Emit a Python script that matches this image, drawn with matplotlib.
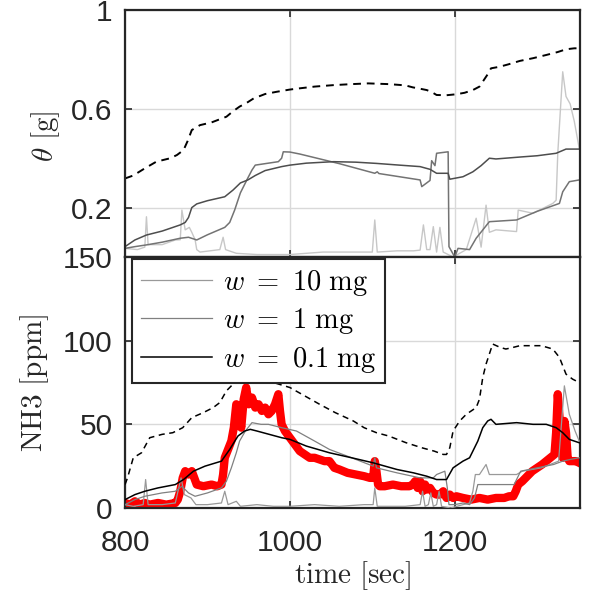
import matplotlib.pyplot as plt
import numpy as np

plt.rcParams['mathtext.fontset'] = 'cm'
plt.rcParams['font.family'] = ['Liberation Sans', 'DejaVu Sans']

# ---- top panel: theta [g] ----
t_dash_top = [800, 810, 824, 838, 855, 863, 871, 876, 881, 891,
              905, 923, 931, 939, 948, 956, 970, 984, 1000, 1012,
              1030, 1053, 1075, 1095, 1120, 1140, 1149, 1160, 1166, 1172,
              1178, 1190, 1202, 1212, 1222, 1230, 1234, 1240, 1244, 1254,
              1265, 1279, 1295, 1311, 1325, 1335, 1345, 1351]
th_dash = [0.318, 0.33, 0.359, 0.386, 0.40, 0.413, 0.433, 0.47, 0.514, 0.534,
           0.545, 0.568, 0.59, 0.609, 0.625, 0.642, 0.66, 0.669, 0.678, 0.683,
           0.69, 0.696, 0.70, 0.703, 0.70, 0.695, 0.687, 0.68, 0.676, 0.668,
           0.656, 0.655, 0.659, 0.665, 0.676, 0.69, 0.71, 0.74, 0.764, 0.77,
           0.78, 0.794, 0.805, 0.818, 0.83, 0.841, 0.845, 0.845]

t_th01 = [800, 812, 826, 845, 867, 873, 877, 881, 887, 900,
          921, 931, 940, 949, 958, 970, 990, 1000, 1020, 1053,
          1080, 1105, 1133, 1158, 1170, 1178, 1192, 1194, 1210, 1222,
          1232, 1242, 1250, 1280, 1300, 1323, 1335, 1351]
th01 = [0.042, 0.069, 0.089, 0.105, 0.130, 0.14, 0.16, 0.20, 0.215, 0.228,
        0.244, 0.271, 0.30, 0.312, 0.33, 0.35, 0.366, 0.372, 0.38, 0.386,
        0.384, 0.379, 0.372, 0.366, 0.355, 0.339, 0.339, 0.315, 0.325, 0.345,
        0.37, 0.40, 0.397, 0.405, 0.41, 0.42, 0.437, 0.437]

t_th1 = [800, 812, 826, 845, 867, 877, 887, 900, 921, 927,
         933, 940, 949, 954, 958, 986, 990, 992, 1000, 1012,
         1060, 1103, 1106, 1108, 1133, 1158, 1160, 1166, 1170, 1172,
         1176, 1178, 1192, 1193, 1200, 1204, 1218, 1226, 1242, 1275,
         1300, 1327, 1331, 1339, 1351]
th1 = [0.035, 0.042, 0.049, 0.06, 0.076, 0.08, 0.069, 0.09, 0.12, 0.14,
       0.19, 0.26, 0.32, 0.352, 0.372, 0.386, 0.40, 0.426, 0.425, 0.417,
       0.378, 0.339, 0.345, 0.338, 0.325, 0.312, 0.285, 0.30, 0.31, 0.39,
       0.37, 0.42, 0.426, 0.042, 0.0, 0.035, 0.03, 0.076, 0.143, 0.15,
       0.185, 0.217, 0.264, 0.305, 0.312]

t_th10 = [800, 815, 824, 826, 828, 845, 861, 867, 869, 873,
          878, 881, 885, 887, 891, 915, 919, 922, 935, 960,
          1000, 1040, 1080, 1100, 1103, 1106, 1130, 1150, 1158, 1162,
          1166, 1170, 1174, 1178, 1182, 1186, 1198, 1214, 1226, 1232,
          1238, 1242, 1250, 1275, 1277, 1295, 1319, 1323, 1325, 1331,
          1335, 1340, 1345, 1351]
th10 = [0.035, 0.03, 0.04, 0.163, 0.05, 0.05, 0.069, 0.07, 0.19, 0.11,
        0.12, 0.10, 0.07, 0.03, 0.02, 0.03, 0.08, 0.03, 0.015, 0.01,
        0.01, 0.02, 0.02, 0.02, 0.15, 0.02, 0.025, 0.025, 0.028, 0.13,
        0.03, 0.03, 0.123, 0.02, 0.12, 0.02, 0.0, 0.03, 0.157, 0.04,
        0.21, 0.10, 0.11, 0.103, 0.19, 0.177, 0.217, 0.23, 0.42, 0.75,
        0.65, 0.62, 0.55, 0.44]

# ---- bottom panel: NH3 [ppm] ----
t_dash_bot = [800, 803, 810, 820, 830, 845, 858, 870, 881, 895,
              907, 915, 923, 935, 950, 965, 980, 1000, 1018, 1036,
              1055, 1077, 1090, 1105, 1120, 1141, 1160, 1175, 1186, 1190,
              1194, 1198, 1206, 1214, 1220, 1226, 1230, 1234, 1238, 1242,
              1246, 1255, 1262, 1271, 1279, 1290, 1305, 1319, 1327, 1335,
              1343, 1351]
nh3_dash = [14, 18, 30, 33, 42, 44, 45, 48, 54, 57,
            60, 63, 70, 76, 78, 77, 75, 72, 67, 62,
            57, 52, 48, 45, 43, 39, 36, 34, 32, 32,
            36, 46, 52, 56, 58, 60, 65, 78, 86, 92,
            98, 96, 95, 96, 97, 97, 97, 95, 90, 80,
            77, 75]

t_meas = [800, 806, 812, 818, 824, 830, 840, 850, 861, 864,
          867, 870, 873, 877, 881, 884, 887, 895, 905, 912,
          917, 919, 921, 925, 929, 932, 935, 938, 941, 944,
          947, 950, 954, 958, 962, 966, 970, 974, 978, 982,
          986, 988, 990, 994, 1000, 1006, 1012, 1018, 1024, 1030,
          1036, 1042, 1048, 1051, 1054, 1060, 1070, 1080, 1090, 1097,
          1101, 1103, 1105, 1107, 1109, 1115, 1125, 1135, 1145, 1149,
          1152, 1155, 1158, 1161, 1164, 1166, 1170, 1174, 1178, 1182,
          1186, 1190, 1194, 1198, 1202, 1210, 1220, 1230, 1240, 1250,
          1260, 1266, 1271, 1274, 1277, 1282, 1288, 1294, 1300, 1306,
          1311, 1316, 1321, 1323, 1325, 1327, 1329, 1331, 1333, 1335,
          1337, 1339, 1343, 1347, 1351]
nh3_meas = [3, 2, 4, 2, 3, 2, 3, 2, 3, 5,
            10, 18, 22, 20, 22, 18, 14, 13, 14, 13,
            14, 20, 30, 35, 40, 48, 62, 55, 48, 65,
            72, 62, 66, 60, 62, 58, 60, 56, 58, 62,
            68, 58, 50, 46, 42, 38, 34, 32, 30, 30,
            29, 28, 28, 26, 24, 23, 21, 20, 19, 18,
            18, 28, 22, 14, 13, 13, 14, 13, 13, 14,
            16, 12, 16, 10, 14, 11, 12, 9, 8, 8,
            10, 6, 8, 6, 7, 6, 5, 6, 5, 6,
            6, 7, 7, 10, 14, 16, 19, 22, 24, 26,
            28, 30, 32, 45, 68, 55, 40, 30, 52, 45,
            30, 28, 28, 28, 27]

t_n01 = [800, 812, 824, 840, 861, 871, 883, 897, 917, 927,
         937, 945, 952, 960, 975, 990, 1000, 1020, 1048, 1075,
         1101, 1130, 1150, 1166, 1178, 1190, 1198, 1210, 1218, 1228,
         1234, 1240, 1244, 1250, 1275, 1295, 1311, 1323, 1331, 1339,
         1351]
n01 = [5, 8, 10, 12, 14, 17, 22, 25, 28, 35,
       43, 46, 47, 46, 44, 42, 41, 37, 33, 30,
       27, 23, 21, 19, 17, 17, 24, 28, 30, 40,
       48, 52, 53, 50, 51, 50, 50, 48, 45, 41,
       39]

t_n1 = [800, 812, 824, 845, 861, 869, 877, 885, 900, 917,
        923, 929, 935, 939, 946, 954, 965, 974, 990, 1008,
        1030, 1048, 1075, 1101, 1103, 1105, 1130, 1158, 1174, 1178,
        1188, 1191, 1193, 1200, 1210, 1218, 1224, 1228, 1234, 1250,
        1272, 1280, 1300, 1320, 1331, 1340, 1351]
n1 = [2, 5, 7, 9, 10, 13, 9, 7, 9, 12,
      16, 24, 33, 40, 46, 51, 50, 50, 48, 46,
      40, 35, 30, 25, 30, 24, 21, 18, 18, 20,
      22, 12, 2, 2, 3, 2, 6, 14, 14, 14,
      14, 22, 24, 26, 28, 29, 30]

t_n10 = [800, 810, 822, 825, 828, 845, 861, 868, 872, 880,
         886, 900, 917, 921, 925, 935, 940, 960, 980, 1000,
         1030, 1060, 1090, 1101, 1103, 1106, 1140, 1158, 1161, 1164,
         1168, 1171, 1174, 1178, 1181, 1184, 1195, 1210, 1218, 1222,
         1225, 1230, 1238, 1242, 1275, 1282, 1305, 1326, 1333, 1339,
         1346, 1351]
n10 = [2, 1, 2, 17, 2, 2, 3, 18, 8, 6,
       2, 2, 3, 10, 2, 4, 1, 2, 1, 1,
       2, 1, 2, 2, 12, 1, 1, 2, 10, 1,
       2, 9, 1, 2, 10, 1, 0, 2, 3, 10,
       20, 20, 26, 20, 20, 22, 24, 28, 73, 56,
       46, 40]

fig = plt.figure(figsize=(5.9, 5.97), dpi=100)
ax1 = fig.add_axes([0.2119, 0.5695, 0.7712, 0.4137])
ax2 = fig.add_axes([0.2119, 0.1491, 0.7712, 0.4204])

ax1.plot(t_dash_top, th_dash, '--', color='k', lw=1.4, dashes=(4, 3))
ax1.plot(t_th10, th10, color='0.78', lw=1.0)
ax1.plot(t_th1, th1, color='0.45', lw=1.1)
ax1.plot(t_th01, th01, color='0.3', lw=1.1)

ax2.plot(t_meas, nh3_meas, color='red', lw=6, zorder=2)
ax2.plot(t_dash_bot, nh3_dash, '--', color='k', lw=1.1, dashes=(4, 3), zorder=3)
l10, = ax2.plot(t_n10, n10, color='0.6', lw=0.9, zorder=3, label=r'$w\ =\ 10\ \mathrm{mg}$')
l1, = ax2.plot(t_n1, n1, color='0.5', lw=0.9, zorder=3, label=r'$w\ =\ 1\ \mathrm{mg}$')
l01, = ax2.plot(t_n01, n01, color='k', lw=1.1, zorder=3, label=r'$w\ =\ 0.1\ \mathrm{mg}$')

for ax in (ax1, ax2):
    ax.set_xlim(800, 1352)
    ax.set_xticks([800, 1000, 1200])
    ax.grid(True, color='0.85', lw=1.0)
    ax.set_axisbelow(True)
    ax.tick_params(direction='in', length=5, width=1.2, top=True, right=True,
                   labelsize=21.5, colors='0.15', pad=9)
    for s in ax.spines.values():
        s.set_linewidth(1.6)
        s.set_color('0.15')

ax1.set_ylim(0, 1)
ax1.set_yticks([0.2, 0.6, 1])
ax1.set_yticklabels(['0.2', '0.6', '1'])
ax1.tick_params(labelbottom=False)

ax2.set_ylim(0, 150)
ax2.set_yticks([0, 50, 100, 150])
ax2.tick_params(axis='x', pad=15)

ax1.set_ylabel(r'$\theta\ [\mathrm{g}]$', fontsize=21, color='0.15')
ax1.yaxis.set_label_coords(-0.138, 0.49)
ax2.set_ylabel(r'$\mathrm{NH3\ [ppm]}$', fontsize=21, color='0.15')
ax2.yaxis.set_label_coords(-0.163, 0.5)
ax2.set_xlabel(r'$\mathrm{time\ [sec]}$', fontsize=21, color='0.15')
ax2.xaxis.set_label_coords(0.5, -0.205)

leg = ax2.legend(handles=[l10, l1, l01], loc='upper left',
                 bbox_to_anchor=(0.0154, 0.992), borderaxespad=0,
                 fontsize=20.5, fancybox=False, framealpha=1,
                 handlelength=2.5, handletextpad=0.4, borderpad=0.3,
                 labelspacing=0.3)
leg.get_frame().set_edgecolor('0.15')
leg.get_frame().set_linewidth(1.5)
leg.set_zorder(5)

fig.savefig('out.png', dpi=100)
